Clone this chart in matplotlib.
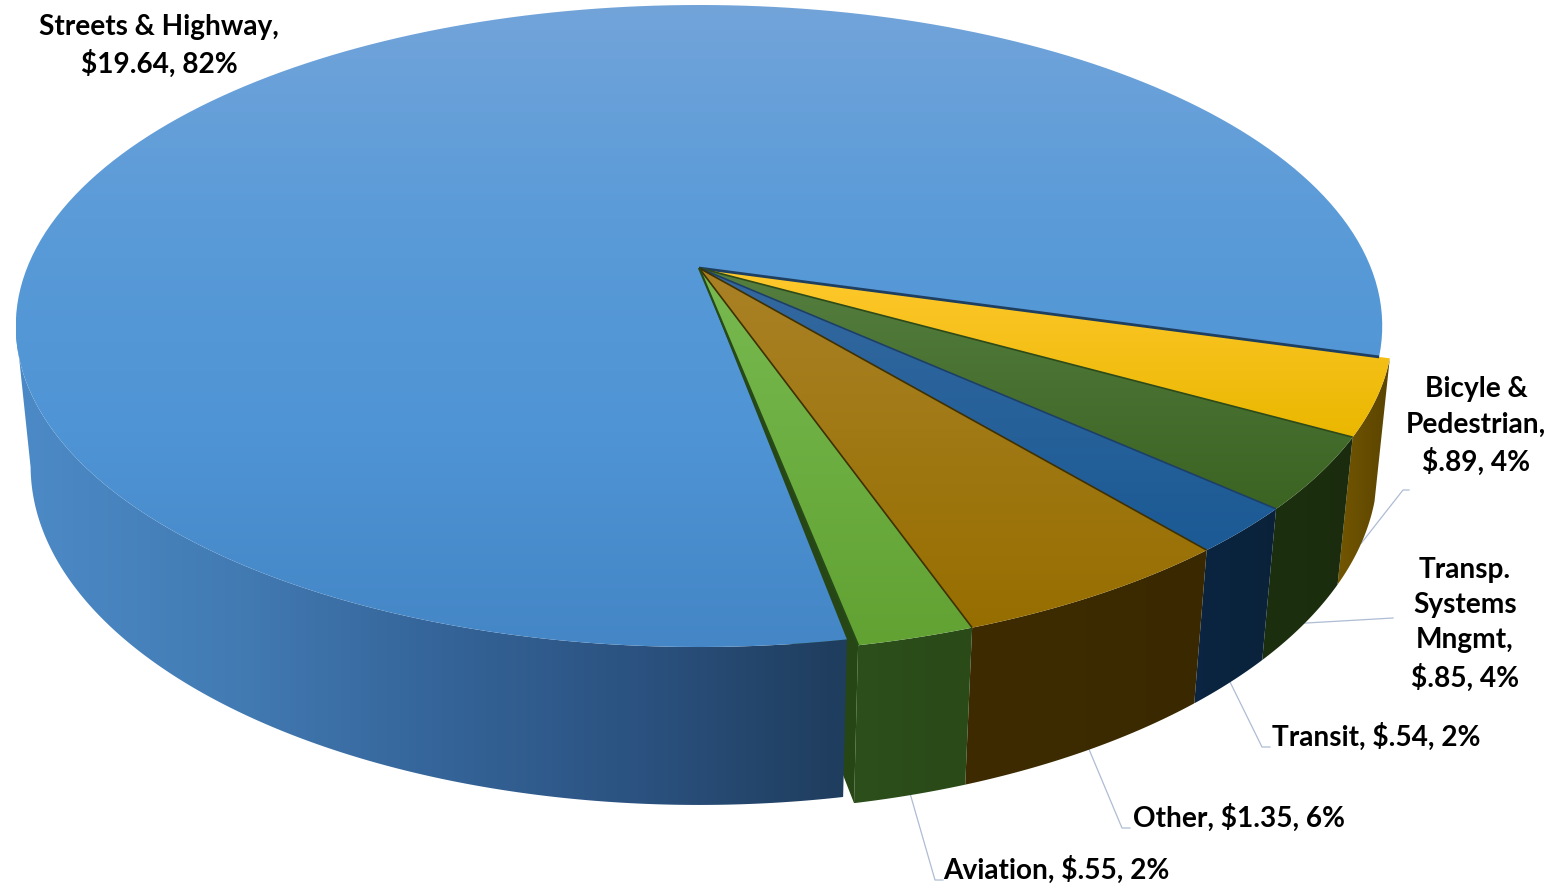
import numpy as np
import matplotlib
matplotlib.use('Agg')
import matplotlib.pyplot as plt
from matplotlib.colors import LinearSegmentedColormap
from matplotlib.patches import Polygon

# datos, en el orden de las agujas del reloj desde el borde derecho
names = ['Bicyle &\nPedestrian,', 'Transp.\nSystems\nMngmt,', 'Transit,', 'Other,', 'Aviation,', 'Streets & Highway,']
values = [0.89, 0.85, 0.54, 1.35, 0.55, 19.64]
value_text = ['$.89', '$.85', '$.54', '$1.35', '$.55', '$19.64']
percent_text = ['4%', '4%', '2%', '6%', '2%', '82%']

# colores: cara superior (arriba, abajo), pared (izq, der)
top_colors = [('#ffc92e', '#eab700'), ('#557f40', '#3b6322'), ('#34699f', '#1b5a95'),
              ('#aa8226', '#966e00'), ('#78ba50', '#62a233'), None]
wall_colors = [('#735600', '#5a4400'), ('#1c300f', '#1a2c0d'), ('#0b2542', '#0a2239'),
               ('#3e2b00', '#3a2900'), ('#2c4f1b', '#2a4a18'), ('#4a88c4', '#1f3d5d')]
edge_colors = ['#1f3f60', '#2e4a18', '#1d3f66', '#3e3000', '#3e3000', '#264a18']

start_deg = -15.8
explode = 1.015
streets_gap = np.radians(0.6)

# proyeccion del disco unitario a pixeles
cx, d = 699.0, 672.0
a, b_top, b_bot = -262.1, 268.0, 414.7
c, f = 0.1807, 0.0215


def project(theta, r=1.0, bottom=False):
    u = r * np.cos(theta)
    v = r * np.sin(theta)
    w = 1 + c * v + (f if bottom else 0)
    return cx + d * u / w, (a * v + (b_bot if bottom else b_top)) / w


def arc(t0, t1, r=1.0, bottom=False):
    t = np.linspace(t0, t1, 200)
    x, y = project(t, r, bottom)
    return np.column_stack([x, y])


def grad_fill(ax, pts, stops, vertical, z):
    cmap = LinearSegmentedColormap.from_list('g', list(stops))
    xmin, ymin = pts.min(axis=0)
    xmax, ymax = pts.max(axis=0)
    ramp = np.linspace(0, 1, 256)
    img = ramp[:, None] if vertical else ramp[None, :]
    im = ax.imshow(img, cmap=cmap, extent=[xmin, xmax, ymax, ymin], aspect='auto',
                   zorder=z, interpolation='bilinear')
    poly = Polygon(pts, closed=True, transform=ax.transData, fill=False, lw=0)
    ax.add_patch(poly)
    im.set_clip_path(poly)


fig = plt.figure(figsize=(15.59, 8.86), dpi=100)
ax = fig.add_axes([0, 0, 1, 1])
ax.axis('off')

fracs = np.array(values) / sum(values)
edges = np.radians(start_deg) - 2 * np.pi * np.concatenate([[0], np.cumsum(fracs)])

# paredes de las porciones chicas
for i in range(5):
    top = arc(edges[i], edges[i + 1], explode)
    bot = arc(edges[i], edges[i + 1], explode, bottom=True)
    grad_fill(ax, np.vstack([top, bot[::-1]]), wall_colors[i], False, 2)

# cara cortada de Aviation
tx, ty = project(edges[5], explode)
bx, by = project(edges[5], explode, bottom=True)
ax_x, ax_y = project(0.0, 0.0)
bax, bay = project(0.0, 0.0, bottom=True)
ax.add_patch(Polygon([(tx, ty), (bx, by), (bax, bay), (ax_x, ax_y)], closed=True,
                     fc='#264616', ec='none', zorder=3))

# pared de Streets & Highway, hasta el extremo izquierdo de la elipse
left_end = -np.radians(169.6)
top = arc(edges[5] - streets_gap, left_end)
bot = arc(edges[5] - streets_gap, left_end, bottom=True)
grad_fill(ax, np.vstack([top, bot[::-1]]), ['#4c8ac7', '#437cb4', '#35659a', '#2b5280', '#1f3d5d'], False, 4)

# cara superior de Streets & Highway
pts = np.vstack([[(ax_x, ax_y)], arc(edges[5] - streets_gap, edges[6])])
grad_fill(ax, pts, ['#72a4da', '#5a9bd8', '#4f94d5', '#4486c6'], True, 5)

# caras superiores de las porciones chicas
for i in range(5):
    pts = np.vstack([[(ax_x, ax_y)], arc(edges[i], edges[i + 1], explode)])
    grad_fill(ax, pts, top_colors[i], True, 6)

# bordes entre porciones
for i in range(6):
    r = 1.0 if i == 0 else explode
    x1, y1 = project(edges[i], r)
    lw = 1.6 if i == 5 else (2.0 if i == 0 else 1.2)
    ax.plot([ax_x, x1], [ax_y, y1], color=edge_colors[i], lw=lw, zorder=7, solid_capstyle='butt')

# lineas guia desde el punto medio de cada pared
leader_ends = [[(1403, 490), (1409, 490)], [(1393, 618)], [(1262, 747), (1270, 747)],
               [(1122, 828), (1130, 828)], [(935, 880), (943, 880)]]
for i in range(5):
    mid = (edges[i] + edges[i + 1]) / 2
    x0, y0 = project(mid, explode, bottom=True)
    line = [(x0, y0)] + leader_ends[i]
    ax.plot([p[0] for p in line], [p[1] for p in line], color='#aebcd4', lw=0.9, zorder=1)

# etiquetas
label_pos = [(1476, 426, 'center'), (1465, 624, 'center'), (1272, 737, 'left'),
             (1133, 818, 'left'), (943, 870, 'left'), (159, 46, 'center')]
for i in range(6):
    # "$" escapado para que no se lea como mathtext
    val = (value_text[i] + ', ' + percent_text[i]).replace('$', r'\$')
    if i in (0, 1, 5):
        s = names[i] + '\n' + val
    else:
        s = names[i] + ' ' + val
    x, y, ha = label_pos[i]
    ax.text(x, y, s, ha=ha, va='center', multialignment='center', fontfamily='Lato',
            fontweight='bold', fontsize=20.2, linespacing=1.44, color='black', zorder=10)

ax.set_xlim(0, 1559)
ax.set_ylim(886, 0)
fig.savefig('out.png', dpi=100, facecolor='white')
